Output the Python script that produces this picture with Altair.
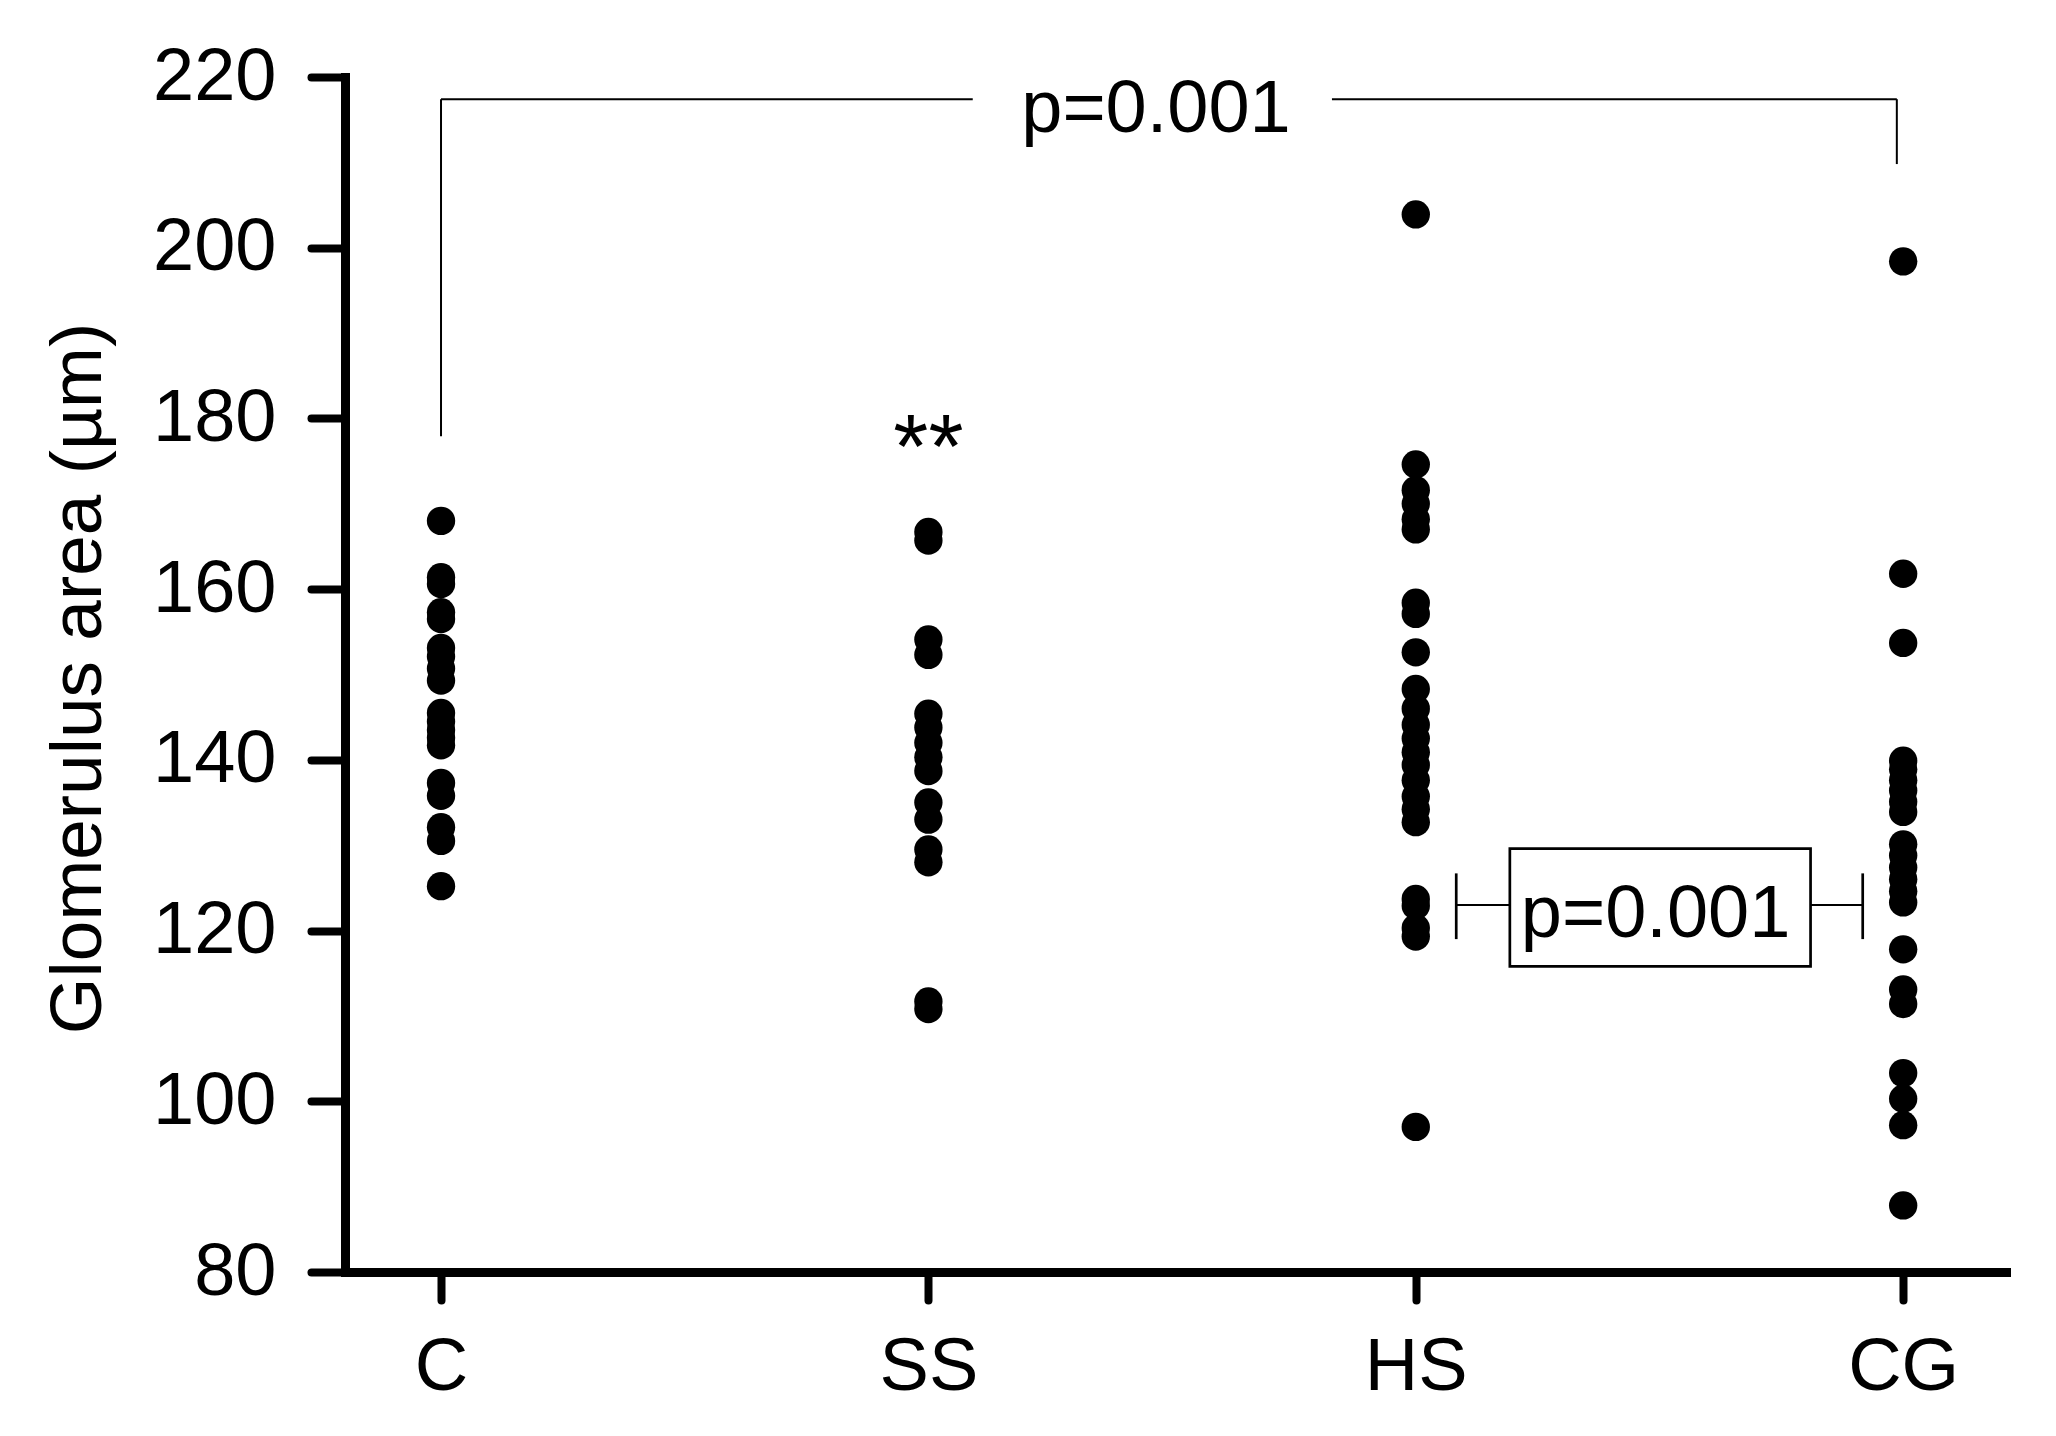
import altair as alt
import pandas as pd

FONT = "Liberation Sans"

groups = ["C", "SS", "HS", "CG"]
group_pos = [0, 1, 2, 3]

c_vals = [168.0, 161.4, 160.6, 157.3, 156.5, 153.1, 152.1, 150.7, 149.3, 145.5,
          144.5, 143.5, 142.6, 141.7, 137.3, 135.8, 132.1, 130.5, 125.2]
ss_vals = [166.7, 165.7, 154.1, 152.3, 145.4, 143.8, 142.0, 140.3, 138.7, 135.0,
           133.0, 129.5, 128.0, 111.7, 110.8]
hs_vals = [203.9, 174.6, 171.6, 170.0, 168.2, 167.0, 158.4, 157.1, 152.6, 148.3,
           146.0, 144.1, 142.5, 140.9, 139.4, 137.6, 135.7, 134.2, 132.7, 123.7,
           122.9, 120.3, 119.3, 97.0]
cg_vals = [198.4, 161.8, 153.7, 139.9, 138.9, 137.6, 136.4, 135.1, 133.9, 130.1,
           128.8, 127.4, 126.0, 124.6, 123.3, 117.8, 113.1, 111.4, 103.3, 100.3,
           97.2, 87.8]

y_ticks = [80, 100, 120, 140, 160, 180, 200, 220]

# annotation segments (data units)
seg_x = [0, 0, 1.828, 2.987, 2.083, 2.083, 2.810, 2.917]
seg_x2 = [0, 1.091, 2.987, 2.987, 2.083, 2.193, 2.917, 2.917]
seg_y = [177.9, 217.4, 217.4, 217.4, 119.0, 123.0, 123.0, 119.0]
seg_y2 = [217.4, 217.4, 217.4, 209.8, 126.7, 123.0, 123.0, 126.7]
seg_w = [2, 2, 2, 2, 2.7, 2, 2, 2.7]

box_x, box_x2, box_y, box_y2 = [2.193], [2.810], [115.8], [129.6]

txt_x = [1.467, 2.492]
txt_y = [213.6, 119.3]
txt_s = ["p=0.001", "p=0.001"]

star_x, star_y, star_s = [1.0], [173.0], ["**"]

rows = []
for pos, vals in zip(group_pos, [c_vals, ss_vals, hs_vals, cg_vals]):
    for v in vals:
        rows.append({"pos": pos, "value": v})
pts = pd.DataFrame(rows)

xscale = alt.Scale(domain=[-0.197, 3.211], nice=False, zero=False)
yscale = alt.Scale(domain=[80, 220], nice=False, zero=False)

label_expr = "datum.value == 0 ? 'C' : datum.value == 1 ? 'SS' : datum.value == 2 ? 'HS' : 'CG'"

points = alt.Chart(pts).mark_circle(size=804, color="black", opacity=1).encode(
    x=alt.X("pos:Q", scale=xscale,
            axis=alt.Axis(values=group_pos, labelExpr=label_expr, title=None,
                          grid=False, labelFont=FONT, labelFontSize=74,
                          labelColor="black", labelPadding=31, tickSize=28,
                          tickWidth=8, tickCap="round", tickColor="black",
                          domainWidth=9, domainColor="black", domainCap="square")),
    y=alt.Y("value:Q", scale=yscale,
            axis=alt.Axis(values=y_ticks, title="Glomerulus area (µm)", grid=False,
                          labelFont=FONT, labelFontSize=74, labelColor="black",
                          labelPadding=35, tickSize=34, tickWidth=8, tickCap="round",
                          tickColor="black", domainWidth=9, domainColor="black",
                          domainCap="square", titleFont=FONT, titleFontSize=73,
                          titleFontWeight="normal", titleColor="black",
                          titleAngle=270, titleX=-245, titleY=601,
                          titleBaseline="alphabetic", titleAlign="center")),
)

segs = pd.DataFrame({"x": seg_x, "x2": seg_x2, "y": seg_y, "y2": seg_y2, "w": seg_w})
rules = alt.Chart(segs).mark_rule(color="black").encode(
    x=alt.X("x:Q", scale=xscale), x2="x2:Q",
    y=alt.Y("y:Q", scale=yscale), y2="y2:Q",
    strokeWidth=alt.StrokeWidth("w:Q", scale=None, legend=None),
)

box = alt.Chart(pd.DataFrame({"x": box_x, "x2": box_x2, "y": box_y, "y2": box_y2})).mark_rect(
    fill="white", stroke="black", strokeWidth=2.7
).encode(
    x=alt.X("x:Q", scale=xscale), x2="x2:Q",
    y=alt.Y("y:Q", scale=yscale), y2="y2:Q",
)

texts = alt.Chart(pd.DataFrame({"x": txt_x, "y": txt_y, "t": txt_s})).mark_text(
    font=FONT, fontSize=74, color="black", align="center", baseline="alphabetic"
).encode(
    x=alt.X("x:Q", scale=xscale),
    y=alt.Y("y:Q", scale=yscale),
    text="t:N",
)

stars = alt.Chart(pd.DataFrame({"x": star_x, "y": star_y, "t": star_s})).mark_text(
    font=FONT, fontSize=90, color="black", align="center", baseline="alphabetic"
).encode(
    x=alt.X("x:Q", scale=xscale),
    y=alt.Y("y:Q", scale=yscale),
    text="t:N",
)

chart = alt.layer(points, rules, box, texts, stars).properties(
    width=1661, height=1195,
    autosize=alt.AutoSizeParams(type="none"),
    padding={"left": 337, "top": 69, "right": 40, "bottom": 150},
    background="white",
).configure_view(stroke=None)

chart.save("out.html", embed_options={"renderer": "svg", "actions": False})
